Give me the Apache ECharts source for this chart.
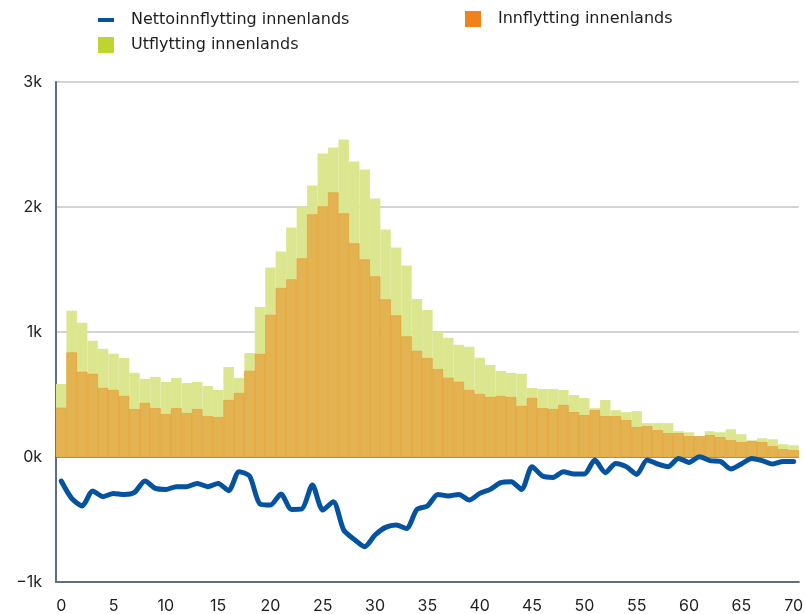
<!DOCTYPE html>
<html>
<head>
<meta charset="utf-8">
<script src="https://cdn.jsdelivr.net/npm/echarts@6/dist/echarts.min.js"></script>
<style>
  html, body { margin: 0; padding: 0; background: #fff; }
  #chart { width: 806px; height: 614px; }
</style>
</head>
<body>
<div id="chart"></div>
<script>
// age 0..70
const ages = [];
for (let a = 0; a <= 70; a++) ages.push(String(a));

const utflytting = [584, 1171, 1075, 930, 866, 826, 793, 673, 625, 641,
  600, 633, 592, 600, 568, 536, 721, 633, 832, 1200,
  1517, 1645, 1837, 2005, 2173, 2429, 2477, 2541, 2365, 2301,
  2069, 1821, 1677, 1533, 1265, 1177, 1000, 954, 898, 882,
  794, 737, 689, 673, 665, 552, 544, 544, 536, 496,
  472, 391, 456, 375, 359, 367, 271, 271, 271, 206,
  198, 166, 206, 198, 222, 182, 134, 150, 142, 102, 94];

const innflytting = [394, 836, 681, 665, 552, 536, 488, 383, 432, 391,
  343, 391, 351, 383, 327, 319, 456, 512, 689, 824,
  1137, 1352, 1421, 1589, 1941, 2005, 2117, 1949, 1709, 1581,
  1445, 1261, 1133, 965, 849, 792, 703, 633, 601, 536,
  504, 480, 488, 480, 408, 472, 391, 383, 416, 359,
  335, 375, 327, 327, 295, 239, 247, 214, 190, 190,
  166, 166, 174, 158, 134, 118, 126, 118, 86, 62, 54];

const netto = [-192, -331, -392, -272, -317, -291, -300, -283, -192, -251,
  -259, -237, -237, -211, -237, -211, -269, -117, -152, -376,
  -384, -296, -419, -415, -224, -424, -357, -584, -659, -717,
  -624, -563, -544, -571, -419, -392, -299, -312, -299, -344,
  -291, -259, -205, -197, -260, -78, -152, -163, -117, -136,
  -136, -24, -125, -51, -77, -139, -24, -56, -77, -11,
  -43, 3, -29, -35, -96, -56, -11, -29, -56, -35, -35];

const yTicks = [-1000, 0, 1000, 2000, 3000];

const names = {
  net: 'Nettoinnflytting innenlands',
  inn: 'Innflytting innenlands',
  ut: 'Utflytting innenlands'
};

const font = 'Inter, "Noto Sans", sans-serif';
const legendFont = '"DejaVu Sans", sans-serif';
const txt = { color: '#1e1e1e', fontSize: 16, fontFamily: legendFont, padding: [0, 0, 0, 12] };

function legendAt(name, color, left, top, h) {
  return {
    data: [{ name: name, itemStyle: { color: color, borderWidth: 0 } }],
    left: left, top: top, icon: 'rect', padding: 0,
    itemWidth: 16, itemHeight: h, textStyle: txt, selectedMode: false
  };
}

const chart = echarts.init(document.getElementById('chart'));
chart.setOption({
  animation: false,
  legend: [
    legendAt(names.net, '#0452a0', 98, 12, 4),
    legendAt(names.inn, '#f0821a', 465, 11, 16),
    legendAt(names.ut, '#bfd42e', 98, 37, 16)
  ],
  grid: { left: 56, right: -2, top: 82, bottom: 32, containLabel: false },
  xAxis: {
    type: 'category',
    data: ages,
    boundaryGap: true,
    axisLine: { onZero: false, lineStyle: { color: '#5c6f7e', width: 2 } },
    axisTick: { show: false },
    axisLabel: {
      interval: 4, color: '#1e1e1e', fontSize: 16, fontFamily: font, margin: 16
    },
    splitLine: { show: false }
  },
  yAxis: {
    type: 'value',
    min: yTicks[0], max: yTicks[yTicks.length - 1], interval: 1000,
    axisLine: { show: true, lineStyle: { color: '#5c6f7e', width: 2 } },
    axisTick: { show: false },
    axisLabel: {
      color: '#1e1e1e', fontSize: 16, fontFamily: font, margin: 14,
      padding: [6, 0, 0, 0],
      formatter: v => (v < 0 ? '\u2212' + (-v / 1000) : v / 1000) + 'k'
    },
    splitLine: {
      lineStyle: { color: ['#5c6f7e', '#5c6f7e', '#c4c4c4', '#c4c4c4', '#c4c4c4'], width: 1.5 }
    }
  },
  series: [
    {
      name: names.ut, type: 'bar', data: utflytting,
      barCategoryGap: 0, barGap: '-100%',
      itemStyle: { color: '#dce68f' },
      emphasis: { disabled: true }
    },
    {
      name: names.inn, type: 'bar', data: innflytting,
      barCategoryGap: 0, barGap: '-100%',
      itemStyle: { color: '#e4b351', borderColor: '#e8992c', borderWidth: 0.6 },
      emphasis: { disabled: true }
    },
    {
      name: names.net, type: 'line', data: netto, z: 5,
      symbol: 'none', smooth: 0.25,
      lineStyle: { color: '#0452a0', width: 5, join: 'round', cap: 'round' },
      itemStyle: { color: '#0452a0' },
      emphasis: { disabled: true }
    }
  ]
});
</script>
</body>
</html>
